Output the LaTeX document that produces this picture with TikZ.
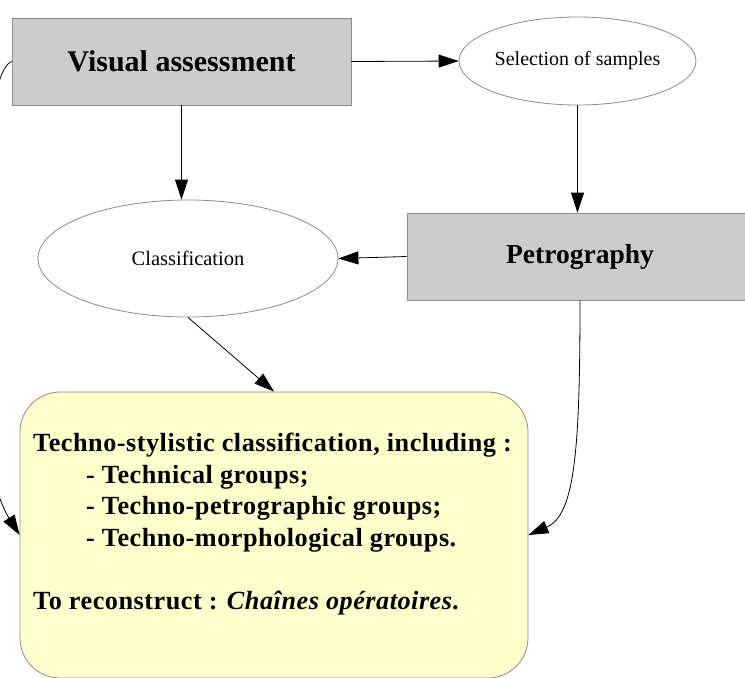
\documentclass[tikz,border=0pt]{standalone}
\usepackage{fontspec}
\setmainfont{Liberation Serif}
\newfontfamily\techfont[LetterSpace=2]{Liberation Serif}
\usetikzlibrary{arrows.meta,shapes.geometric}
\definecolor{boxgray}{HTML}{CCCCCC}
\definecolor{edgegray}{HTML}{8C8C8C}
\definecolor{paleyellow}{HTML}{FFFFCC}
\tikzset{
  graybox/.style={draw=edgegray, fill=boxgray, line width=0.8pt, inner sep=0pt},
  oval/.style={ellipse, draw=edgegray, fill=white, line width=0.8pt, inner sep=0pt},
  conn/.style={draw=black, line width=0.8pt, -{Triangle[length=20pt,width=13pt]}},
}
\begin{document}
\begin{tikzpicture}[x=1pt,y=-1pt]
\useasboundingbox (0,0) rectangle (745,678);
\node[graybox, minimum width=339pt, minimum height=87pt, font=\bfseries\fontsize{30}{36}\selectfont] (visual) at (181.5,61.5) {Visual assessment};
\node[oval, minimum width=237pt, minimum height=88pt, font=\fontsize{20}{24}\selectfont] (sel) at (577.5,61) {Selection of samples};
\node[oval, minimum width=300pt, minimum height=117pt, font=\fontsize{20.5}{24}\selectfont] (class) at (188,258.5) {Classification};
\node[graybox, minimum width=360pt, minimum height=87pt, font=\bfseries\fontsize{27.5}{33}\selectfont] (petro) at (587,256.5) {Petrography\hspace*{14pt}};
\node[draw=edgegray, fill=paleyellow, line width=0.8pt, rounded corners=40pt, minimum width=508pt, minimum height=286pt, inner sep=0pt] (tech) at (274,535) {};
\node[anchor=north west, inner sep=0pt, align=left, font=\techfont\bfseries\fontsize{26.2}{31.5}\selectfont] (techtext) at (33,433) {Techno-stylistic classification, including :\\
\hspace*{53pt}- Technical groups;\\
\hspace*{53pt}- Techno-petrographic groups;\\
\hspace*{53pt}- Techno-morphological groups.\\[31.5pt]
To reconstruct : \textit{Chaînes opératoires}.};
\coordinate (petrodown) at ([xshift=-7pt]petro.south);
\draw[conn] (visual.east) -- (sel.west);
\draw[conn] (visual.south) -- (visual.south |- class.north);
\draw[conn] (sel.south) -- (sel.south |- petro.north);
\draw[conn] (petro.west) -- (class.east);
\draw[conn] (class.south) -- (tech.north);
\draw[conn] (petrodown) .. controls (580,450) and (575,515) .. (tech.east);
\draw[conn] (visual.west) .. controls (-25,75) and (-40,440) .. (tech.west);
\end{tikzpicture}
\end{document}
